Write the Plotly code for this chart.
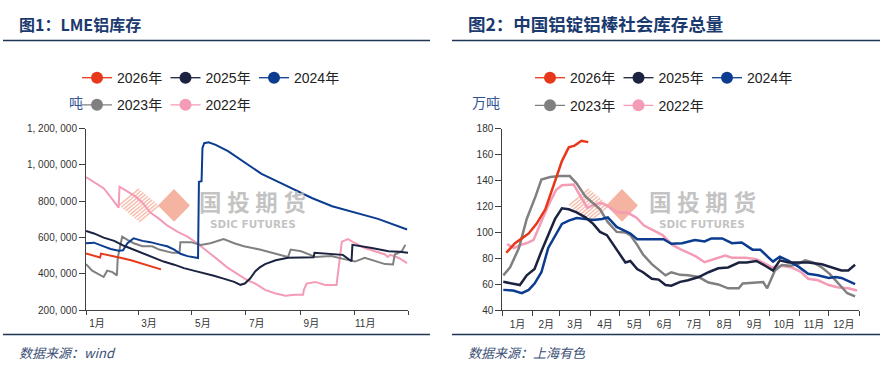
import pandas as pd
import plotly.graph_objects as go

# ---------------- data: LME aluminium stocks (tons), x = day of year ----------------
lme_2022_day = [0, 9, 20, 26, 32, 36, 37, 38, 47, 56, 64, 73, 83, 92, 104, 115, 126, 138, 149, 160, 172,
                183, 192, 203, 214, 226, 237, 246, 247, 250, 260, 271, 284, 285, 287, 290, 297, 305, 316,
                328, 339, 342, 345, 354, 364]
lme_2022_val = [933000, 907000, 872000, 836000, 800000, 770000, 765000, 880000, 853000, 827000, 792000,
                738000, 703000, 667000, 632000, 605000, 569000, 525000, 480000, 436000, 400000, 365000,
                347000, 312000, 294000, 280000, 285000, 285000, 312000, 347000, 356000, 339000, 339000,
                380000, 454000, 578000, 592000, 569000, 543000, 525000, 507000, 493000, 505000, 489000,
                460000]
lme_2023_day = [0, 7, 20, 24, 30, 35, 36, 41, 47, 54, 64, 75, 83, 92, 98, 106, 107, 119, 130, 141, 156,
                168, 179, 197, 212, 227, 229, 232, 244, 260, 278, 294, 305, 316, 339, 348, 350, 358, 362]
lme_2023_val = [454000, 418000, 383000, 418000, 410000, 392000, 489000, 605000, 587000, 569000, 552000,
                552000, 534000, 525000, 516000, 516000, 575000, 575000, 560000, 569000, 592000, 569000,
                552000, 534000, 516000, 499000, 493000, 534000, 525000, 493000, 498000, 480000, 468000,
                489000, 454000, 452000, 507000, 525000, 560000]
lme_2024_day = [0, 9, 20, 28, 37, 42, 47, 54, 64, 73, 85, 92, 100, 107, 115, 127, 128, 131, 132, 134, 139,
                147, 161, 180, 199, 218, 241, 256, 279, 305, 331, 364]
lme_2024_val = [569000, 572000, 552000, 537000, 528000, 530000, 569000, 596000, 582000, 575000, 560000,
                552000, 534000, 511000, 498000, 488000, 907000, 910000, 1093000, 1120000, 1125000,
                1111000, 1076000, 1013000, 951000, 907000, 853000, 818000, 773000, 738000, 703000, 645000]
lme_2025_day = [0, 9, 20, 32, 43, 54, 66, 77, 88, 100, 111, 122, 134, 145, 156, 168, 175, 180, 186, 192,
                197, 203, 215, 229, 245, 258, 259, 276, 291, 301, 302, 324, 343, 355, 365]
lme_2025_val = [637000, 623000, 600000, 582000, 555000, 534000, 507000, 489000, 468000, 451000, 432000,
                418000, 404000, 390000, 374000, 356000, 340000, 347000, 375000, 415000, 436000, 454000,
                475000, 489000, 490000, 492000, 516000, 511000, 505000, 470000, 560000, 543000, 525000,
                522000, 516000]
lme_2026_day = [0, 9, 16, 17, 28, 39, 51, 62, 73, 85]
lme_2026_val = [512000, 498000, 490000, 512000, 502000, 489000, 475000, 459000, 445000, 425000]

lme_yticks = [200000, 400000, 600000, 800000, 1000000, 1200000]
lme_yticktext = ["200, 000", "400, 000", "600, 000", "800, 000", "1, 000, 000", "1, 200, 000"]
lme_xticks = ["2023-01-01", "2023-03-01", "2023-05-01", "2023-07-01", "2023-09-01", "2023-11-01", "2024-01-01"]
lme_xticktext = ["1月", "3月", "5月", "7月", "9月", "11月", ""]

# ---------------- data: China aluminium ingot + bar social stocks (10k tons) ----------------
soc_2022_day = [5, 12, 19, 26, 32, 39, 46, 55, 61, 73, 80, 87, 94, 101, 108, 118, 128, 137, 145, 154, 164,
                174, 183, 190, 198, 207, 217, 228, 235, 249, 260, 269, 276, 286, 296, 306, 313, 323, 334,
                344, 354, 363]
soc_2022_val = [91, 88, 90.4, 92, 94.2, 106.6, 119, 132.7, 136.4, 136.9, 127.7, 119, 121.5, 122.7, 120.2,
                115.3, 115.3, 111.5, 105.3, 101.6, 97.9, 90.4, 86.7, 84.5, 81.5, 77, 79.3, 82.2, 80.5, 80.5,
                79.3, 75.5, 73, 74.3, 73, 69.3, 64.3, 63.1, 59.4, 57.6, 57, 55.2]
soc_2023_day = [1, 8, 17, 25, 34, 40, 49, 59, 69, 76, 85, 95, 100, 108, 117, 126, 131, 138, 144, 153, 160,
                167, 173, 182, 190, 201, 211, 221, 231, 242, 246, 255, 267, 271, 279, 286, 295, 302, 310,
                318, 327, 335, 344, 353, 361]
soc_2023_val = [66.9, 73.1, 88, 110.4, 127.8, 140.7, 142.7, 143.4, 143.4, 137.8, 127.8, 121.6, 117.8,
                107.9, 100.4, 100, 97.9, 90.4, 83, 75.5, 71, 66.9, 69.3, 67.3, 66.9, 65.6, 61.4, 59.9, 56.9,
                56.9, 60.6, 61, 61.7, 56.9, 70.6, 74.8, 74.3, 75.5, 78.5, 76.8, 73, 68.1, 60.6, 53.1, 50.7]
soc_2024_day = [1, 11, 20, 27, 33, 40, 47, 54, 61, 68, 76, 85, 93, 102, 108, 117, 124, 131, 138, 147, 158,
                165, 173, 184, 197, 207, 214, 225, 235, 245, 256, 264, 272, 277, 284, 293, 303, 313, 323,
                334, 341, 347, 361]
soc_2024_val = [55.7, 55.2, 53.1, 55.7, 60.6, 69.3, 88, 97.9, 106.6, 109.1, 111.1, 110.4, 109.6, 110.4,
                111.6, 104.2, 101.6, 99.2, 94.7, 94.7, 94.7, 94.7, 91.2, 91.7, 94.2, 93, 95.4, 95.4, 91.7,
                92.2, 86.7, 86.7, 81, 77.5, 81.3, 78, 73.6, 68.1, 66.9, 64.9, 65.6, 64.9, 60.1]
soc_2025_day = [1, 10, 18, 25, 33, 40, 47, 54, 61, 68, 76, 85, 93, 100, 107, 114, 120, 126, 131, 138, 144,
                153, 160, 167, 173, 182, 190, 201, 211, 221, 231, 242, 250, 260, 269, 277, 284, 293, 303,
                313, 327, 337, 347, 354, 361]
soc_2025_val = [61.9, 60.6, 59.4, 66.9, 71.8, 85.5, 97.9, 110.4, 118.6, 117.8, 115.4, 111.6, 106.6, 100.4,
                97.9, 90.4, 83, 76.8, 78, 71.8, 69.3, 64.3, 63.6, 59.4, 58.9, 61.9, 63.1, 65.6, 69.3, 72.3,
                73, 76.8, 76.8, 78, 74.3, 70.6, 78.5, 76.8, 76.8, 76.8, 75.5, 73, 70.6, 70.6, 75.1]
soc_2026_day = [4, 13, 20, 27, 35, 44, 52, 61, 68, 74, 81, 88]
soc_2026_val = [84.3, 91.7, 95.4, 99.2, 106.6, 117.8, 135.2, 155, 165.6, 166.9, 170.6, 169.6]

years = ["2026年", "2025年", "2024年", "2023年", "2022年"]
colors = {"2026年": "#E8381B", "2025年": "#1C2340", "2024年": "#0B3C8F",
          "2023年": "#808080", "2022年": "#F49BB6"}

base = pd.Timestamp("2023-01-01")


def to_dates(days):
    return base + pd.to_timedelta(days, unit="D")


lme = {"2022年": (lme_2022_day, lme_2022_val), "2023年": (lme_2023_day, lme_2023_val),
       "2024年": (lme_2024_day, lme_2024_val), "2025年": (lme_2025_day, lme_2025_val),
       "2026年": (lme_2026_day, lme_2026_val)}
soc = {"2022年": (soc_2022_day, soc_2022_val), "2023年": (soc_2023_day, soc_2023_val),
       "2024年": (soc_2024_day, soc_2024_val), "2025年": (soc_2025_day, soc_2025_val),
       "2026年": (soc_2026_day, soc_2026_val)}

W, H = 888, 375
FONT = "Liberation Sans, Noto Sans CJK SC, sans-serif"
CJK = "Noto Sans CJK SC, sans-serif"


def px(x):
    return x / W


def py(y):
    return 1 - y / H


fig = go.Figure()
draw_order = ["2022年", "2023年", "2024年", "2025年", "2026年"]
for name in draw_order:
    d, v = lme[name]
    fig.add_trace(go.Scatter(x=to_dates(d), y=v, mode="lines", line=dict(color=colors[name], width=2),
                             showlegend=False, xaxis="x", yaxis="y", hoverinfo="skip"))
for name in draw_order:
    d, v = soc[name]
    fig.add_trace(go.Scatter(x=to_dates(d), y=v, mode="lines", line=dict(color=colors[name], width=2.5),
                             showlegend=False, xaxis="x2", yaxis="y2", hoverinfo="skip"))

# legend entries (line + circle symbol)
legend_map = [("legend", "legend3"), ("legend", "legend3"), ("legend", "legend3"),
              ("legend2", "legend4"), ("legend2", "legend4")]
for name, (lg_left, lg_right) in zip(years, legend_map):
    for lg, xa, ya in ((lg_left, "x", "y"), (lg_right, "x2", "y2")):
        fig.add_trace(go.Scatter(x=[None], y=[None], mode="lines+markers", name=name,
                                 line=dict(color=colors[name], width=1.3),
                                 marker=dict(size=12, color=colors[name]),
                                 legend=lg, xaxis=xa, yaxis=ya))

axis_common = dict(showgrid=False, zeroline=False, showline=True, linecolor="#404040", linewidth=1,
                   ticks="outside", tickcolor="#404040", tickwidth=1,
                   tickfont=dict(family=FONT, size=10, color="#333333"))
ydom = [py(314.3), py(126.7)]

fig.update_layout(
    width=W, height=H, margin=dict(l=0, r=0, t=0, b=0),
    paper_bgcolor="white", plot_bgcolor="white",
    xaxis=dict(domain=[px(86), px(408)], anchor="y", type="date",
               range=["2023-01-01", "2024-01-01"], tickmode="array",
               tickvals=lme_xticks, ticktext=lme_xticktext, ticklen=4, ticklabelshift=11, **axis_common),
    yaxis=dict(domain=ydom, anchor="x", range=[200000, 1200000], tickmode="array",
               tickvals=lme_yticks, ticktext=lme_yticktext, ticklen=6, **axis_common),
    xaxis2=dict(domain=[px(502.3), px(859)], anchor="y2", type="date",
                range=["2023-01-01", "2024-01-01"], dtick="M1", tick0="2023-01-01",
                tickformat="%-m月", ticklabelmode="period", ticklen=5, **axis_common),
    yaxis2=dict(domain=ydom, anchor="x2", range=[40, 180], dtick=20, ticklen=6, **axis_common),
    showlegend=True,
)

leg_common = dict(orientation="h", font=dict(family=FONT, size=14, color="#222222"),
                  bgcolor="rgba(0,0,0,0)", entrywidth=43.5, entrywidthmode="pixels",
                  xanchor="left", yanchor="middle", traceorder="normal")
fig.update_layout(
    legend=dict(x=px(77), y=py(74.5), **leg_common),
    legend2=dict(x=px(77), y=py(102.5), **leg_common),
    legend3=dict(x=px(530), y=py(74.5), **leg_common),
    legend4=dict(x=px(530), y=py(103), **leg_common),
)

navy = "#1B3A6F"
ann = []
shapes = []
# titles
ann.append(dict(text="<b>图1：LME铝库存</b>", x=px(17), y=py(18.5), xref="paper", yref="paper",
                xanchor="left", yanchor="middle", showarrow=False,
                font=dict(family=CJK, size=16, color=navy)))
ann.append(dict(text="<b>图2：中国铝锭铝棒社会库存总量</b>", x=px(466), y=py(18.5), xref="paper",
                yref="paper", xanchor="left", yanchor="middle", showarrow=False,
                font=dict(family=CJK, size=17.5, color=navy)))
# units
ann.append(dict(text="吨", x=px(85), y=py(99), xref="paper", yref="paper", xanchor="right",
                yanchor="middle", showarrow=False, font=dict(family=CJK, size=14, color="#2F5597")))
ann.append(dict(text="万吨", x=px(502), y=py(99.5), xref="paper", yref="paper", xanchor="right",
                yanchor="middle", showarrow=False, font=dict(family=CJK, size=14, color="#2F5597")))
# sources
ann.append(dict(text="<i>数据来源：wind</i>", x=px(17), y=py(358), xref="paper", yref="paper",
                xanchor="left", yanchor="middle", showarrow=False,
                font=dict(family=CJK, size=13, color="#3B4F75")))
ann.append(dict(text="<i>数据来源：上海有色</i>", x=px(466), y=py(358), xref="paper", yref="paper",
                xanchor="left", yanchor="middle", showarrow=False,
                font=dict(family=CJK, size=13, color="#3B4F75")))

# rules
for x0, x1 in ((3, 430), (452, 880)):
    for yy in (35.7, 339.3):
        shapes.append(dict(type="line", xref="paper", yref="paper", x0=px(x0), x1=px(x1),
                           y0=py(yy), y1=py(yy), line=dict(color="#1F3553", width=1.5)))

# watermarks (logo)
wm_grey = "rgba(185,185,185,0.85)"
for hcx, dcx, tcx in ((139, 174, 253), (589, 622, 702)):
    cy = 206
    a, b = 20, 17
    L = (hcx - a, cy); T = (hcx, cy - b); R = (hcx + a, cy); B = (hcx, cy + b)
    n = 9
    for i in range(n + 1):
        t = i / n
        sx = L[0] + t * (B[0] - L[0]); sy = L[1] + t * (B[1] - L[1])
        ex = T[0] + t * (R[0] - T[0]); ey = T[1] + t * (R[1] - T[1])
        shapes.append(dict(type="line", xref="paper", yref="paper", x0=px(sx), y0=py(sy),
                           x1=px(ex), y1=py(ey), line=dict(color="#F6BFB0", width=1.5), layer="below"))
    da, db = 16, 17
    path = (f"M {px(dcx - da)} {py(cy)} L {px(dcx)} {py(cy - db)} L {px(dcx + da)} {py(cy)} "
            f"L {px(dcx)} {py(cy + db)} Z")
    shapes.append(dict(type="path", xref="paper", yref="paper", path=path,
                       fillcolor="#F5B4A2", line=dict(width=0), layer="below"))
    ann.append(dict(text="<b>国\u2005投\u2005期\u2005货</b>", x=px(tcx), y=py(201), xref="paper",
                    yref="paper", xanchor="center", yanchor="middle", showarrow=False, borderpad=0,
                    font=dict(family=CJK, size=22.5, color=wm_grey)))
    ann.append(dict(text="<b>SDIC FUTURES</b>", x=px(tcx), y=py(225), xref="paper", yref="paper",
                    xanchor="center", yanchor="middle", showarrow=False, borderpad=0,
                    font=dict(family="DejaVu Sans", size=10.5, color=wm_grey)))

fig.update_layout(annotations=ann, shapes=shapes)
fig.write_html("out.html", config={"displayModeBar": False},
               post_script="document.body.style.margin='0px';")
